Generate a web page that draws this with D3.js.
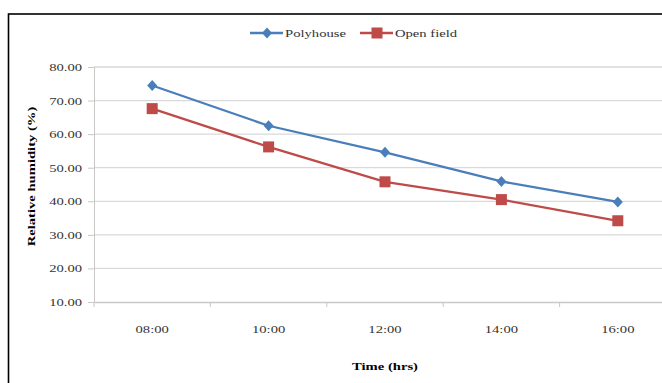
<!DOCTYPE html>
<html>
<head>
<meta charset="utf-8">
<script src="https://cdn.jsdelivr.net/npm/d3@7/dist/d3.min.js"></script>
<style>
  body { margin: 0; background: #fff; }
  svg { display: block; font-family: "Liberation Serif", "Times New Roman", serif; }
</style>
</head>
<body>
<div class="main_content"></div>
<script>
// chart data
const times = ['08:00', '10:00', '12:00', '14:00', '16:00'];
const polyhouse = [74.5, 62.5, 54.6, 45.9, 39.8];
const openField = [67.6, 56.2, 45.8, 40.5, 34.2];
const yTicks = [10, 20, 30, 40, 50, 60, 70, 80];

const width = 662, height = 383;
const margin = {top: 67, right: -14, bottom: 81, left: 94};
const plotW = width - margin.left - margin.right;
const plotH = height - margin.top - margin.bottom;
const serif = '"Liberation Serif", "Times New Roman", serif';
const stretch = 1.33; // source text looks horizontally stretched

const svg = d3.select('.main_content')
    .append('svg')
    .attr('width', width)
    .attr('height', height);

// outer border of chart (cropped on right/bottom)
svg.append('rect')
    .attr('x', 8.5)
    .attr('y', 14)
    .attr('width', 700)
    .attr('height', 400)
    .style('fill', 'none')
    .style('stroke', '#000')
    .style('stroke-width', 1.6);

const g = svg.append('g').attr('transform', `translate(${margin.left},${margin.top})`);

const x = d3.scaleBand().domain(times).range([0, plotW]);
const y = d3.scaleLinear().domain([10, 80]).range([plotH, 0]);

// gridlines
g.selectAll('.grid')
    .data(yTicks.slice(1))
    .enter().append('line')
    .attr('x1', 0).attr('x2', plotW)
    .attr('y1', d => y(d)).attr('y2', d => y(d))
    .style('stroke', '#d9d9d9')
    .style('stroke-width', 1.3);

// y axis
const yAxis = g.append('g')
    .call(d3.axisLeft(y).tickValues(yTicks).tickFormat(d3.format('.2f')).tickSize(6).tickPadding(3))
    .attr('font-family', serif);
yAxis.select('.domain').style('stroke', '#c8c8c8');
yAxis.selectAll('.tick line').style('stroke', '#c8c8c8');
yAxis.selectAll('text')
    .attr('transform', `scale(${stretch},1)`)
    .style('font-size', '11px').style('fill', '#333');

// x axis
const xAxis = g.append('g')
    .attr('transform', `translate(0,${plotH})`)
    .call(d3.axisBottom(x).tickSize(0).tickPadding(23))
    .attr('font-family', serif);
xAxis.select('.domain').style('stroke', '#c8c8c8').style('stroke-width', 1.3);
xAxis.selectAll('text')
    .attr('transform', `scale(${stretch},1)`)
    .style('font-size', '11px').style('fill', '#333');
g.append('g')
    .selectAll('line')
    .data(times)
    .enter().append('line')
    .attr('x1', d => x(d)).attr('x2', d => x(d))
    .attr('y1', plotH).attr('y2', plotH + 5)
    .style('stroke', '#c8c8c8');

// axis titles
svg.append('text')
    .attr('transform', `translate(35,${margin.top + plotH / 2 - 8}) rotate(-90) scale(${stretch},1)`)
    .attr('text-anchor', 'middle')
    .style('font-size', '11px')
    .style('font-weight', 'bold')
    .text('Relative humidity (%)');

svg.append('text')
    .attr('transform', `translate(${margin.left + plotW / 2},370) scale(${stretch},1)`)
    .attr('text-anchor', 'middle')
    .style('font-size', '11px')
    .style('font-weight', 'bold')
    .text('Time (hrs)');

// series
const series = [
    {name: 'Polyhouse', values: polyhouse, color: '#4a7ebb', marker: 'diamond'},
    {name: 'Open field', values: openField, color: '#be4b48', marker: 'square'}
];

const line = d3.line()
    .x((d, i) => x(times[i]) + x.bandwidth() / 2)
    .y(d => y(d));

function drawMarker(sel, type, color) {
    if (type === 'diamond') {
        sel.append('path')
            .attr('d', 'M0,-5.5L5,0L0,5.5L-5,0Z')
            .style('fill', color);
    } else {
        sel.append('rect')
            .attr('x', -5.5).attr('y', -5.5)
            .attr('width', 11).attr('height', 11)
            .style('fill', color);
    }
}

series.forEach(s => {
    g.append('path')
        .datum(s.values)
        .attr('d', line)
        .style('fill', 'none')
        .style('stroke', s.color)
        .style('stroke-width', 2.3);

    s.values.forEach((v, i) => {
        const m = g.append('g')
            .attr('transform', `translate(${x(times[i]) + x.bandwidth() / 2},${y(v)})`);
        drawMarker(m, s.marker, s.color);
    });
});

// legend
const legendPos = [{x: 250, y: 33}, {x: 360, y: 33}];
series.forEach((s, i) => {
    const lg = svg.append('g').attr('transform', `translate(${legendPos[i].x},${legendPos[i].y})`);
    lg.append('line')
        .attr('x1', 0).attr('x2', 33)
        .attr('y1', 0).attr('y2', 0)
        .style('stroke', s.color)
        .style('stroke-width', 2.3);
    const m = lg.append('g').attr('transform', 'translate(17,0)');
    drawMarker(m, s.marker, s.color);
    lg.append('text')
        .attr('transform', `translate(35,4) scale(${stretch},1)`)
        .style('font-size', '11px')
        .style('fill', '#333')
        .text(s.name);
});
</script>
</body>
</html>
